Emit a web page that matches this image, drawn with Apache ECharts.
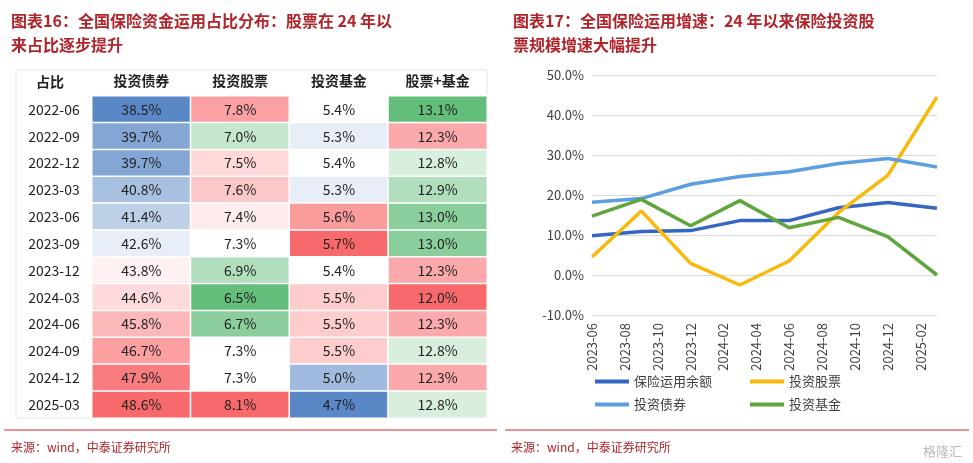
<!DOCTYPE html>
<html><head><meta charset="utf-8">
<script src="https://cdn.jsdelivr.net/npm/echarts@6/dist/echarts.min.js"></script>
<style>html,body{margin:0;padding:0;background:#fff}#c{width:973px;height:463px}</style>
</head><body><div id="c"></div>
<script>
// ---- table data ----
const tableCols = ['投资债券','投资股票','投资基金','股票+基金'];
const tableRows = ['2022-06','2022-09','2022-12','2023-03','2023-06','2023-09','2023-12','2024-03','2024-06','2024-09','2024-12','2025-03'];
const bondShare  = [38.5,39.7,39.7,40.8,41.4,42.6,43.8,44.6,45.8,46.7,47.9,48.6];
const stockShare = [7.8,7.0,7.5,7.6,7.4,7.3,6.9,6.5,6.7,7.3,7.3,8.1];
const fundShare  = [5.4,5.3,5.4,5.3,5.6,5.7,5.4,5.5,5.5,5.5,5.0,4.7];
const sfShare    = [13.1,12.3,12.8,12.9,13.0,13.0,12.3,12.0,12.3,12.8,12.3,12.8];
// ---- line data ----
const months = ['2023-06','2023-07','2023-08','2023-09','2023-10','2023-11','2023-12','2024-01','2024-02','2024-03','2024-04','2024-05','2024-06','2024-07','2024-08','2024-09','2024-10','2024-11','2024-12','2025-01','2025-02','2025-03'];
const quarters = ['2023-06','2023-09','2023-12','2024-03','2024-06','2024-09','2024-12','2025-03'];
const totalGrowth = [9.8,10.9,11.1,13.6,13.6,16.8,18.1,16.7];
const stockGrowth = [4.5,16.0,2.9,-2.5,3.5,15.6,24.9,44.5];
const bondGrowth  = [18.2,19.1,22.7,24.6,25.8,27.9,29.1,27.0];
const fundGrowth  = [14.7,18.9,12.3,18.6,11.8,14.4,9.6,0.0];

function mix(a,b,t){const pa=[parseInt(a.slice(1,3),16),parseInt(a.slice(3,5),16),parseInt(a.slice(5,7),16)],pb=[parseInt(b.slice(1,3),16),parseInt(b.slice(3,5),16),parseInt(b.slice(5,7),16)];return 'rgb('+pa.map((v,i)=>Math.round(v+(pb[i]-v)*t)).join(',')+')';}
function scale3(v,min,mid,max,cl,ch){const W='#ffffff';if(v<=mid)return mix(W,cl,(mid-v)/(mid-min));return mix(W,ch,(v-mid)/(max-mid));}
const BLUE='#5a88c6',RED='#f8696b',GREEN='#63be7b';
const colArrs=[bondShare,stockShare,fundShare,sfShare];
const colScale=[[43.3,BLUE,RED],[7.3,GREEN,RED],[5.4,BLUE,RED],[12.7,RED,GREEN]];
const heatData=[];
colArrs.forEach((arr,c)=>{const mn=Math.min(...arr),mx=Math.max(...arr);const [mid,lo,hi]=colScale[c];
 arr.forEach((v,r)=>heatData.push({value:[c,r,v],itemStyle:{color:scale3(v,mn,mid,mx,lo,hi)}}));});
function toMonthly(vals){const m=months.map(()=>null);quarters.forEach((q,i)=>{m[months.indexOf(q)]=vals[i];});return m;}

const F='"Noto Sans CJK SC", sans-serif';
const chart=echarts.init(document.getElementById('c'));
const titleStyle={fontSize:16,fontWeight:'bold',color:'#b0242b',fontFamily:F,lineHeight:24};
chart.setOption({
 animation:false,
 textStyle:{fontFamily:F},
 title:[
  {text:'图表16：全国保险资金运用占比分布：股票在 24 年以\n来占比逐步提升',left:6,top:4,textStyle:titleStyle},
  {text:'图表17：全国保险运用增速：24 年以来保险投资股\n票规模增速大幅提升',left:508,top:4,textStyle:titleStyle},
  {text:'来源：wind，中泰证券研究所',left:6,top:436,textStyle:{fontSize:12,color:'#b0242b',fontWeight:'normal'}},
  {text:'来源：wind，中泰证券研究所',left:506,top:436,textStyle:{fontSize:12,color:'#b0242b',fontWeight:'normal'}},
  {text:'格隆汇',left:918,top:440,textStyle:{fontSize:13,color:'#bbb',fontWeight:'normal'}}
 ],
 graphic:[
  {type:'line',shape:{x1:4,y1:430,x2:497,y2:430},style:{stroke:'#d9262c',lineWidth:1}},
  {type:'line',shape:{x1:505,y1:430,x2:969,y2:430},style:{stroke:'#d9262c',lineWidth:1}},
  {type:'rect',shape:{x:16,y:70,width:471,height:348},style:{fill:'none',stroke:'#e4e4e4',lineWidth:1}},
  {type:'text',left:36,top:75,style:{text:'占比',font:'bold 14px '+F,fill:'#222'}}
 ],
 grid:[
  {left:92,top:96,width:395,bottom:45},
  {left:592,top:75,right:36,bottom:148}
 ],
 xAxis:[
  {gridIndex:0,type:'category',data:tableCols,position:'top',axisLine:{show:false},axisTick:{show:false},splitLine:{show:false},
   axisLabel:{fontSize:14,fontWeight:'bold',color:'#222',margin:8}},
  {gridIndex:1,type:'category',data:months,boundaryGap:false,axisLine:{show:false},axisTick:{show:false},
   axisLabel:{rotate:90,interval:1,fontSize:13,color:'#404040',margin:8}}
 ],
 yAxis:[
  {gridIndex:0,type:'category',data:tableRows,inverse:true,axisLine:{show:false},axisTick:{show:false},
   axisLabel:{fontSize:14,color:'#222',margin:38,align:'center'}},
  {gridIndex:1,type:'value',min:-10,max:50,interval:10,axisLine:{show:false},axisTick:{show:false},
   splitLine:{lineStyle:{color:'#d9d9d9'}},axisLabel:{fontSize:13,color:'#404040',formatter:v=>v.toFixed(1)+'%'}}
 ],
 legend:[
  {data:['保险运用余额','投资债券'],orient:'vertical',left:590,top:370,itemGap:10,itemWidth:34,itemHeight:4,icon:'rect',textStyle:{fontSize:13,color:'#404040'}},
  {data:['投资股票','投资基金'],orient:'vertical',left:745,top:370,itemGap:10,itemWidth:34,itemHeight:4,icon:'rect',textStyle:{fontSize:13,color:'#404040'}}
 ],
 series:[
  {type:'heatmap',xAxisIndex:0,yAxisIndex:0,data:heatData,
   itemStyle:{borderColor:'#ffffff',borderWidth:1.5},
   label:{show:true,fontSize:14,color:'#222',formatter:p=>p.value[2].toFixed(1)+'%'}},
  {name:'保险运用余额',type:'line',xAxisIndex:1,yAxisIndex:1,data:toMonthly(totalGrowth),connectNulls:true,showSymbol:false,lineStyle:{width:3.5},color:'#3466c2'},
  {name:'投资股票',type:'line',xAxisIndex:1,yAxisIndex:1,data:toMonthly(stockGrowth),connectNulls:true,showSymbol:false,lineStyle:{width:3.5},color:'#f7b90c'},
  {name:'投资债券',type:'line',xAxisIndex:1,yAxisIndex:1,data:toMonthly(bondGrowth),connectNulls:true,showSymbol:false,lineStyle:{width:3.5},color:'#5d9ee0'},
  {name:'投资基金',type:'line',xAxisIndex:1,yAxisIndex:1,data:toMonthly(fundGrowth),connectNulls:true,showSymbol:false,lineStyle:{width:3.5},color:'#5ea53c'}
 ]
});
</script></body></html>
